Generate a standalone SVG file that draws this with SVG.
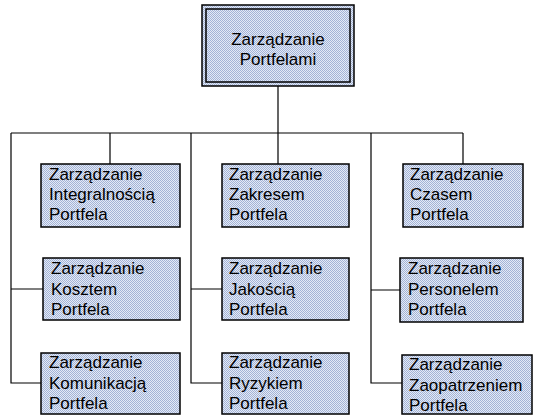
<svg xmlns="http://www.w3.org/2000/svg" width="533" height="416" viewBox="0 0 533 416">
<defs>
<pattern id="dots" width="2" height="2" patternUnits="userSpaceOnUse">
<rect width="2" height="2" fill="#e4eaf6"/>
<rect x="0" y="0" width="1" height="1" fill="#a3b3d6"/>
<rect x="1" y="1" width="1" height="1" fill="#a3b3d6"/>
</pattern>
</defs>
<style>
.box{fill:url(#dots);stroke:#000;stroke-width:1.5}
.in{fill:none;stroke:#000;stroke-width:1.5}
.conn{fill:none;stroke:#000;stroke-width:1.2}
text{font-family:"Liberation Sans",Arial,sans-serif;font-size:17px;fill:#000}
.c{text-anchor:middle}
</style>
<rect width="533" height="416" fill="#fff"/>
<g id="connectors">
<path class="conn" d="M278 86V164 M11 133H463 M11 133V383H42 M11 289H43 M110 133V164 M191 133V383H222 M191 289H222 M371 133V383H402 M371 290H400 M463 133V164"/>
</g>
<g id="root">
<rect class="box" x="202" y="5" width="152" height="81"/>
<rect class="in" x="206" y="9" width="144" height="73"/>
<text class="c" x="278" y="45">Zarządzanie</text>
<text class="c" x="278" y="65">Portfelami</text>
</g>
<g id="integralnosc">
<rect class="box" x="41" y="164" width="139" height="63"/>
<text x="49" y="180">Zarządzanie</text>
<text x="49" y="200">Integralnością</text>
<text x="49" y="220">Portfela</text>
</g>
<g id="zakres">
<rect class="box" x="222" y="164" width="127" height="63"/>
<text x="229" y="180">Zarządzanie</text>
<text x="229" y="200">Zakresem</text>
<text x="229" y="220">Portfela</text>
</g>
<g id="czas">
<rect class="box" x="403" y="164" width="120" height="63"/>
<text x="410" y="180">Zarządzanie</text>
<text x="410" y="200">Czasem</text>
<text x="410" y="220">Portfela</text>
</g>
<g id="koszt">
<rect class="box" x="43" y="258" width="137" height="62"/>
<text x="51" y="274">Zarządzanie</text>
<text x="51" y="295">Kosztem</text>
<text x="51" y="315">Portfela</text>
</g>
<g id="jakosc">
<rect class="box" x="222" y="258" width="127" height="62"/>
<text x="229" y="274">Zarządzanie</text>
<text x="229" y="295">Jakością</text>
<text x="229" y="315">Portfela</text>
</g>
<g id="personel">
<rect class="box" x="400" y="258" width="123" height="64"/>
<text x="408" y="274">Zarządzanie</text>
<text x="408" y="295">Personelem</text>
<text x="408" y="315">Portfela</text>
</g>
<g id="komunikacja">
<rect class="box" x="41" y="353" width="139" height="61"/>
<text x="49" y="368">Zarządzanie</text>
<text x="49" y="389">Komunikacją</text>
<text x="49" y="409">Portfela</text>
</g>
<g id="ryzyko">
<rect class="box" x="222" y="353" width="127" height="61"/>
<text x="229" y="368">Zarządzanie</text>
<text x="229" y="389">Ryzykiem</text>
<text x="229" y="409">Portfela</text>
</g>
<g id="zaopatrzenie">
<rect class="box" x="402" y="355" width="130" height="59"/>
<text x="409" y="370">Zarządzanie</text>
<text x="409" y="391">Zaopatrzeniem</text>
<text x="409" y="411">Portfela</text>
</g>
</svg>
